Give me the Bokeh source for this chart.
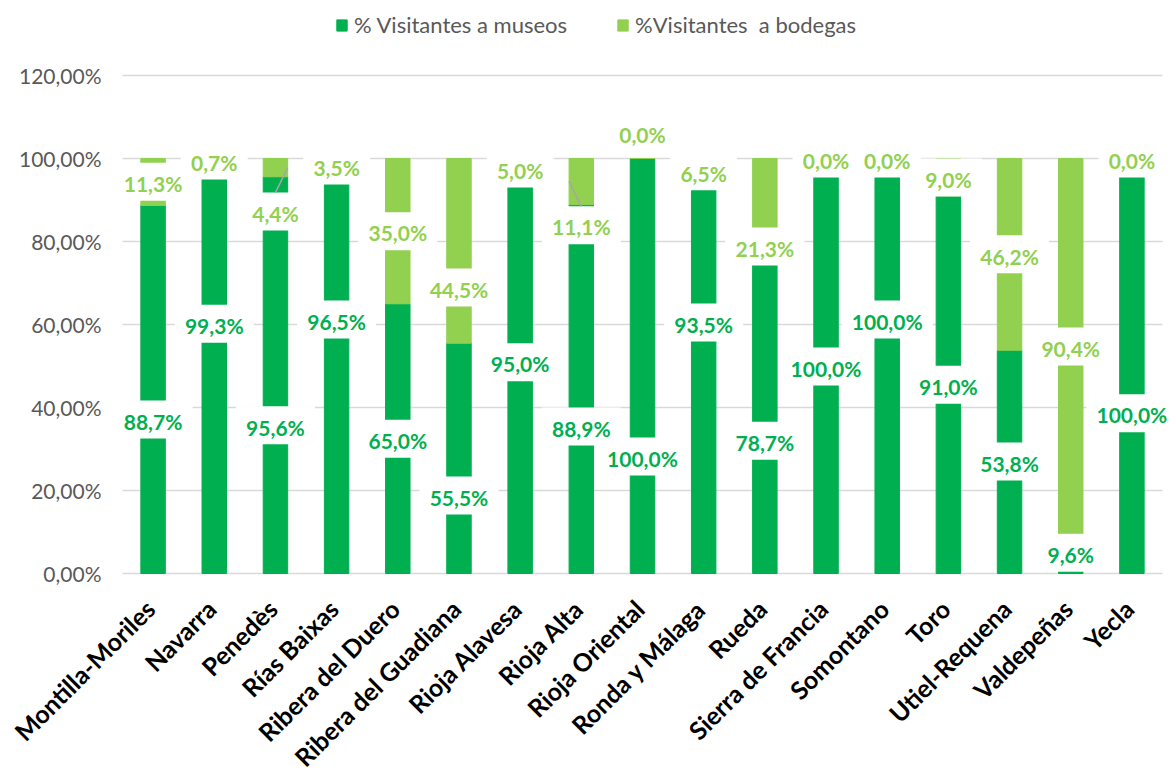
import math
from bokeh.plotting import figure
from bokeh.models import Range1d, ColumnDataSource, Legend, LegendItem
from bokeh.embed import file_html
from bokeh.resources import INLINE
from bokeh.core.properties import value

# ---------------- data ----------------
categories = ["Montilla-Moriles", "Navarra", "Penedès", "Rías Baixas", "Ribera del Duero",
              "Ribera del Guadiana", "Rioja Alavesa", "Rioja Alta", "Rioja Oriental",
              "Ronda y Málaga", "Rueda", "Sierra de Francia", "Somontano", "Toro",
              "Utiel-Requena", "Valdepeñas", "Yecla"]
museos = [88.7, 99.3, 95.6, 96.5, 65.0, 55.5, 95.0, 88.9, 100.0, 93.5, 78.7, 100.0, 100.0, 91.0, 53.8, 9.6, 100.0]
bodegas = [11.3, 0.7, 4.4, 3.5, 35.0, 44.5, 5.0, 11.1, 0.0, 6.5, 21.3, 0.0, 0.0, 9.0, 46.2, 90.4, 0.0]
series_names = ["% Visitantes a museos", "%Visitantes  a bodegas"]
y_ticks = [0, 20, 40, 60, 80, 100, 120]
y_tick_labels = ["0,00%", "20,00%", "40,00%", "60,00%", "80,00%", "100,00%", "120,00%"]

# label placement (as dragged in the original chart), in % units
museos_label_y = [37.1, 60.2, 35.7, 61.2, 32.5, 18.8, 50.9, 35.4, 28.2, 60.5, 32.0, 49.9, 61.2, 45.5, 27.0, 5.0, 38.6]
bodegas_label_y = [94.4, 99.5, 87.2, 98.3, 82.5, 68.9, 97.6, 83.9, 106.1, 96.9, 78.8, 100.0, 100.0, 95.4, 76.9, 54.7, 100.0]
leader_side = {"Penedès": 1, "Rioja Alta": -1}

# ---------------- styling ----------------
DARK = "#00B050"
LIGHT = "#92D050"
GRID = "#D9D9D9"
FONT = "Lato"
BAR_W = 0.4
BOX_H = 38

W, H = 1171, 774
LEFT, TOP_PAD, BOTTOM = 122, 75, 201      # pixel geometry of the value area
CAT_PX = (1162 - LEFT) / len(categories)
PX_PER_PCT = (H - BOTTOM - TOP_PAD) / 120.0

def fmt(v):
    return ("%.1f" % v).replace(".", ",") + "%"

def box_w(s):
    n_dig = sum(c.isdigit() for c in s)
    return 12 * n_dig + 43

n = len(categories)
xs = list(range(n))
tops = [m + b for m, b in zip(museos, bodegas)]

x_start = -0.5 - LEFT / CAT_PX
x_end = -0.5 + (W - LEFT) / CAT_PX
y_end = 120 + TOP_PAD / PX_PER_PCT
y_start = -BOTTOM / PX_PER_PCT

p = figure(width=W, height=H, output_backend="svg", toolbar_location=None,
           x_range=Range1d(x_start, x_end), y_range=Range1d(y_start, y_end),
           min_border_left=0, min_border_right=0, min_border_top=0, min_border_bottom=0)
p.outline_line_color = None
p.background_fill_color = "white"
p.xaxis.visible = False
p.yaxis.visible = False
p.xgrid.grid_line_color = None
p.ygrid.grid_line_color = None

# gridlines (value area only)
p.segment(x0=[-0.5] * len(y_ticks), x1=[n - 0.5] * len(y_ticks), y0=y_ticks, y1=y_ticks,
          line_color=GRID, line_width=1.5)

# y tick labels
p.text(x=[-0.5 - 21 / CAT_PX] * len(y_ticks), y=y_ticks, text=y_tick_labels,
       text_align="right", text_baseline="middle",
       text_font=value(FONT), text_font_size="21px", text_color="#595959")

src = ColumnDataSource(dict(x=xs, museos=museos, tops=tops))
r1 = p.vbar(x="x", bottom=0, top="museos", width=BAR_W, color=DARK, source=src)
r2 = p.vbar(x="x", bottom="museos", top="tops", width=BAR_W, color=LIGHT, source=src)

# label boxes
lab_m = [fmt(v) for v in museos]
lab_b = [fmt(v) for v in bodegas]
box_src = ColumnDataSource(dict(
    x=xs + xs,
    y=museos_label_y + bodegas_label_y,
    w=[box_w(s) for s in lab_m] + [box_w(s) for s in lab_b],
))
p.rect(x="x", y="y", width="w", width_units="screen", height=BOX_H, height_units="screen",
       fill_color="white", line_color=None, source=box_src)

# leader lines
half_box = BOX_H / 2 / PX_PER_PCT
lx0, ly0, lx1, ly1 = [], [], [], []
for cat, side in leader_side.items():
    i = categories.index(cat)
    lx0.append(i)
    ly0.append(bodegas_label_y[i] + half_box)
    lx1.append(i + side * BAR_W / 2)
    ly1.append(museos[i] + bodegas[i] / 2)
p.segment(x0=lx0, y0=ly0, x1=lx1, y1=ly1, line_color="#A6A6A6", line_width=1.5)

# data label texts
p.text(x=xs, y=[y - 0.4 for y in museos_label_y], text=lab_m, text_align="center", text_baseline="middle",
       text_font=value(FONT), text_font_style="bold", text_font_size="21px", text_color=DARK)
p.text(x=xs, y=[y - 0.4 for y in bodegas_label_y], text=lab_b, text_align="center", text_baseline="middle",
       text_font=value(FONT), text_font_style="bold", text_font_size="21px", text_color=LIGHT)

# category labels (rotated), placed just under the zero line
p.text(x=[i - 0.05 for i in xs], y=[-7.4] * n, text=categories, angle=math.pi / 4,
       text_align="right", text_baseline="middle",
       text_font=value(FONT), text_font_style="bold", text_font_size="25px", text_color="black")

legend = Legend(items=[LegendItem(label=series_names[0], renderers=[r1]),
                       LegendItem(label=series_names[1], renderers=[r2])],
                location=(335, H - 38), orientation="horizontal",
                label_text_font=FONT, label_text_font_size="22px", label_text_color="#595959",
                glyph_width=13, glyph_height=14, label_standoff=6, spacing=49, padding=4, margin=0,
                border_line_color=None, background_fill_alpha=0)
p.add_layout(legend)

open("out.html", "w").write(file_html(p, INLINE))
